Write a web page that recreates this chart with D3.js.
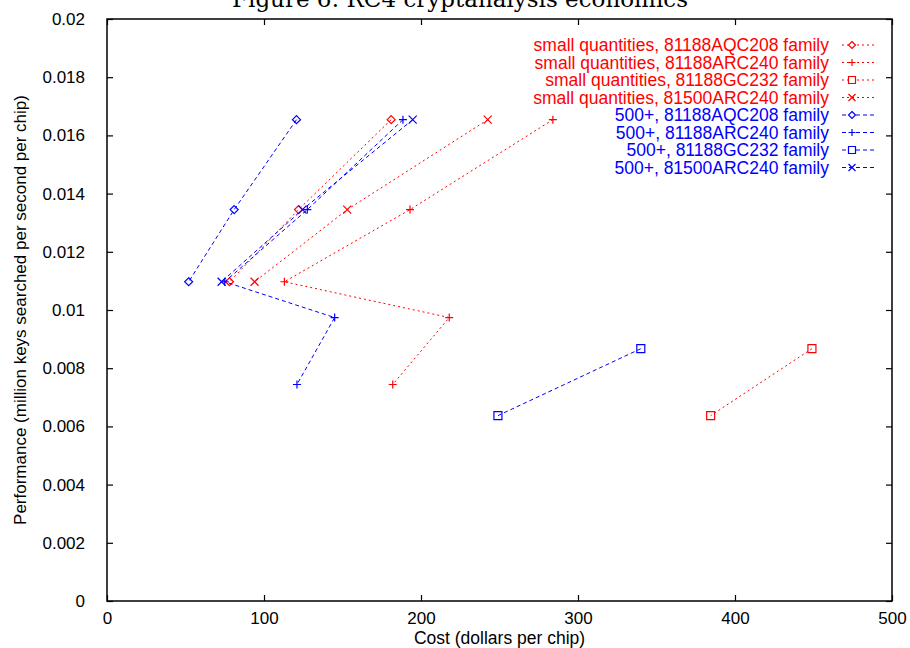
<!DOCTYPE html>
<html>
<head>
<meta charset="utf-8">
<script src="https://cdn.jsdelivr.net/npm/d3@7"></script>
<style>
  body { margin: 0; background: #fff; }
  text { font-family: "Liberation Sans", Arial, sans-serif; }
</style>
</head>
<body>
<svg id="chart" width="910" height="648"></svg>
<script>
// chart values
const title = "Figure 6: RC4 cryptanalysis economics";
const xTicks = [0, 100, 200, 300, 400, 500];
const yTicks = [0, 0.002, 0.004, 0.006, 0.008, 0.01, 0.012, 0.014, 0.016, 0.018, 0.02];

const seriesNames = [
  "small quantities, 81188AQC208 family",
  "small quantities, 81188ARC240 family",
  "small quantities, 81188GC232 family",
  "small quantities, 81500ARC240 family",
  "500+, 81188AQC208 family",
  "500+, 81188ARC240 family",
  "500+, 81188GC232 family",
  "500+, 81500ARC240 family"
];
const seriesColors = ["#ff0000", "#ff0000", "#ff0000", "#ff0000", "#0000ff", "#0000ff", "#0000ff", "#0000ff"];
const seriesMarkers = ["diamond", "plus", "square", "cross", "diamond", "plus", "square", "cross"];

// [cost, performance]
const smallAQC208 = [[181, 0.01654], [122, 0.01345], [78, 0.01097]];
const smallARC240 = [[284, 0.01654], [193, 0.01345], [113, 0.01097], [218, 0.00974], [182, 0.00744]];
const smallGC232 = [[449, 0.00867], [384.5, 0.00637]];
const small81500 = [[242.5, 0.01654], [153, 0.01345], [94, 0.01097]];
const bulkAQC208 = [[120.7, 0.01654], [81, 0.01345], [52, 0.01097]];
const bulkARC240 = [[188.5, 0.01654], [127.6, 0.01345], [75, 0.01097], [145, 0.00974], [121, 0.00744]];
const bulkGC232 = [[340, 0.00867], [249, 0.00637]];
const bulk81500 = [[194.7, 0.01654], [124.5, 0.01345], [73, 0.01097]];

const seriesData = [smallAQC208, smallARC240, smallGC232, small81500, bulkAQC208, bulkARC240, bulkGC232, bulk81500];

const width = 910, height = 648;
const margin = { top: 19, right: 18, bottom: 47, left: 107 };

const svg = d3.select("#chart");
const x = d3.scaleLinear().domain([0, 500]).range([margin.left, width - margin.right]);
const y = d3.scaleLinear().domain([0, 0.02]).range([height - margin.bottom, margin.top]);

function markerPath(kind, r) {
  if (kind === "diamond") return `M0,${-r}L${r},0L0,${r}L${-r},0Z`;
  if (kind === "square") return `M${-r},${-r}H${r}V${r}H${-r}Z`;
  if (kind === "plus") return `M${-r},0H${r}M0,${-r}V${r}`;
  return `M${-r},${-r}L${r},${r}M${-r},${r}L${r},${-r}`;
}

// title, cut by the top edge as in the original
svg.append("text")
  .attr("x", 460).attr("y", 7)
  .attr("text-anchor", "middle")
  .style("font-family", "'DejaVu Serif', 'Liberation Serif', serif")
  .style("font-size", "23px")
  .text(title);

// axes with inward ticks, mirrored on top and right
const tickLen = 6;
svg.append("g")
  .attr("transform", `translate(0,${y(0)})`)
  .call(d3.axisBottom(x).tickValues(xTicks).tickSizeInner(-tickLen).tickSizeOuter(0).tickPadding(11).tickFormat(d3.format("d")))
  .call(g => g.select(".domain").remove())
  .call(g => g.selectAll("text").style("font-size", "17px").attr("fill", "#000"));
svg.append("g")
  .attr("transform", `translate(0,${y(0.02)})`)
  .call(d3.axisTop(x).tickValues(xTicks).tickSizeInner(-tickLen).tickSizeOuter(0).tickFormat(""))
  .call(g => g.select(".domain").remove());
svg.append("g")
  .attr("transform", `translate(${x(0)},0)`)
  .call(d3.axisLeft(y).tickValues(yTicks).tickSizeInner(-tickLen).tickSizeOuter(0).tickPadding(22).tickFormat(d => String(d)))
  .call(g => g.select(".domain").remove())
  .call(g => g.selectAll("text").style("font-size", "17px").attr("fill", "#000"));
svg.append("g")
  .attr("transform", `translate(${x(500)},0)`)
  .call(d3.axisRight(y).tickValues(yTicks).tickSizeInner(-tickLen).tickSizeOuter(0).tickFormat(""))
  .call(g => g.select(".domain").remove());

svg.selectAll(".tick line").attr("stroke", "#000").attr("stroke-width", 1.2);

svg.append("rect")
  .attr("x", x(0)).attr("y", y(0.02))
  .attr("width", x(500) - x(0)).attr("height", y(0) - y(0.02))
  .attr("fill", "none").attr("stroke", "#000").attr("stroke-width", 1.5);

// axis titles
svg.append("text")
  .attr("x", (x(0) + x(500)) / 2).attr("y", 644)
  .attr("text-anchor", "middle")
  .style("font-size", "17.5px")
  .text("Cost (dollars per chip)");
svg.append("text")
  .attr("transform", `translate(26,${(y(0) + y(0.02)) / 2}) rotate(-90)`)
  .attr("text-anchor", "middle")
  .style("font-size", "17px")
  .text("Performance (million keys searched per second per chip)");

// series
const line = d3.line().x(d => x(d[0])).y(d => y(d[1]));
const plot = svg.append("g");
seriesData.forEach((data, i) => {
  const dash = i < 4 ? "2,3" : "4,3";
  plot.append("path")
    .attr("d", line(data))
    .attr("fill", "none")
    .attr("stroke", seriesColors[i])
    .attr("stroke-width", 1)
    .attr("stroke-dasharray", dash);
  plot.selectAll(null)
    .data(data)
    .enter()
    .append("path")
    .attr("transform", d => `translate(${x(d[0])},${y(d[1])})`)
    .attr("d", markerPath(seriesMarkers[i], 4))
    .attr("fill", "none")
    .attr("stroke", seriesColors[i])
    .attr("stroke-width", 1.2);
});

// legend
const legend = svg.append("g");
seriesNames.forEach((name, i) => {
  const cy = 45 + i * 17.5;
  const color = seriesColors[i];
  legend.append("text")
    .attr("x", 829).attr("y", cy)
    .attr("dy", "0.35em")
    .attr("text-anchor", "end")
    .attr("fill", color)
    .style("font-size", "17.5px")
    .text(name);
  legend.append("line")
    .attr("x1", 842).attr("x2", 875)
    .attr("y1", cy).attr("y2", cy)
    .attr("stroke", color)
    .attr("stroke-dasharray", i < 4 ? "2,3" : "4,3");
  legend.append("path")
    .attr("transform", `translate(852,${cy})`)
    .attr("d", markerPath(seriesMarkers[i], 3.5))
    .attr("fill", "#fff")
    .attr("stroke", color)
    .attr("stroke-width", 1.2);
});
</script>
</body>
</html>
